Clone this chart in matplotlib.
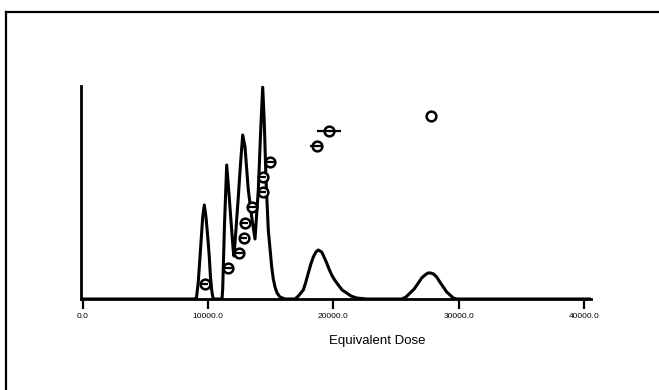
import numpy as np
import matplotlib.pyplot as plt
from matplotlib.lines import Line2D

plt.rcParams['font.family'] = ['Liberation Sans', 'DejaVu Sans']

# density curve (dose, relative height)
curve_dose = [-160, 8866, 9060, 9200, 9345, 9561, 9689, 9824, 9990, 10088,
              10180, 10280, 10350, 10407,
              11102, 11158, 11302, 11478, 11661, 11821, 12005, 12061, 12220,
              12404, 12580, 12756, 12939, 13203, 13474, 13738, 14002, 14194,
              14353, 14481, 14617, 14800, 15072, 15200, 15335, 15500, 15735,
              16134, 16933, 17200,
              17596, 17800, 17995, 18200, 18395, 18600, 18794, 19066, 19250,
              19465, 19650, 19864, 20100, 20391, 20700, 21062, 21400,
              21861, 22660, 25455, 25800, 26118, 26450, 26781, 27050, 27316,
              27550, 27772, 28000, 28251, 28500, 28778, 29050, 29313, 29580,
              29848, 40575]
curve_dens = [0, 0, 1, 16, 42, 82, 94, 82, 58, 42,
              22, 9, 3, 0,
              0, 10, 75, 134, 105, 78, 48, 43, 70,
              102, 135, 164, 152, 109, 82, 60, 109, 169,
              212, 176, 119, 69, 32, 20, 12, 6, 2,
              0, 0, 3,
              9, 17, 26, 35, 42, 47, 49, 47, 42,
              36, 30, 24, 19, 14, 9, 6, 3,
              1, 0, 0, 2, 6, 10, 16, 21, 24,
              26, 26, 25, 22, 17, 12, 7, 4, 1,
              0, 0]

# individual equivalent doses with their errors, ranked
de_values = [9720, 11580, 12490, 12830, 12910, 13500, 14350, 14350, 14940,
             18660, 19620, 27770]
de_errors = [300, 300, 300, 300, 300, 300, 300, 300, 300, 530, 970, 0]
de_rank = list(range(1, len(de_values) + 1))

tick_vals = [0, 10000, 20000, 30000, 40000]
tick_labels = ['0.0', '10000.0', '20000.0', '30000.0', '40000.0']

W, H = 659, 390
fig = plt.figure(figsize=(W / 100, H / 100), dpi=100)
ax = fig.add_axes([81 / W, 1 - 299 / H, (591 - 81) / W, (299 - 86) / H])

ax.plot(curve_dose, curve_dens, color='black', lw=2.2, solid_joinstyle='round')
ax.set_xlim(-160, 40575)
ax.set_ylim(0, 213)

for s in ['top', 'right']:
    ax.spines[s].set_visible(False)
for s in ['left', 'bottom']:
    ax.spines[s].set_linewidth(2.0)
ax.set_yticks([])
ax.set_xticks(tick_vals)
ax.set_xticklabels(tick_labels, fontsize=6)
ax.tick_params(axis='x', direction='out', length=7, width=1.6, pad=3)
ax.set_xlabel('Equivalent Dose', fontsize=9.5)
ax.xaxis.set_label_coords((377 - 81) / (591 - 81), -0.17)

# ranked points on a twin scale
ax2 = ax.twinx()
ax2.set_ylim(0, 13.95)
ax2.set_xlim(ax.get_xlim())
ax2.axis('off')
ax2.plot(de_values, de_rank, 'o', ms=7, mfc='white', mec='black', mew=1.8,
         zorder=3)
err = np.array(de_errors)
has_err = err > 0
ax2.hlines(np.array(de_rank)[has_err], (np.array(de_values) - err)[has_err],
           (np.array(de_values) + err)[has_err], color='black', lw=1.6,
           zorder=4)

# outer frame (top and left edge)
fig.add_artist(Line2D([6 / W, 1.0], [1 - 12 / H, 1 - 12 / H], color='black',
                      lw=1.6, transform=fig.transFigure))
fig.add_artist(Line2D([6 / W, 6 / W], [0, 1 - 12 / H], color='black',
                      lw=1.6, transform=fig.transFigure))

fig.savefig('out.png', dpi=100)
